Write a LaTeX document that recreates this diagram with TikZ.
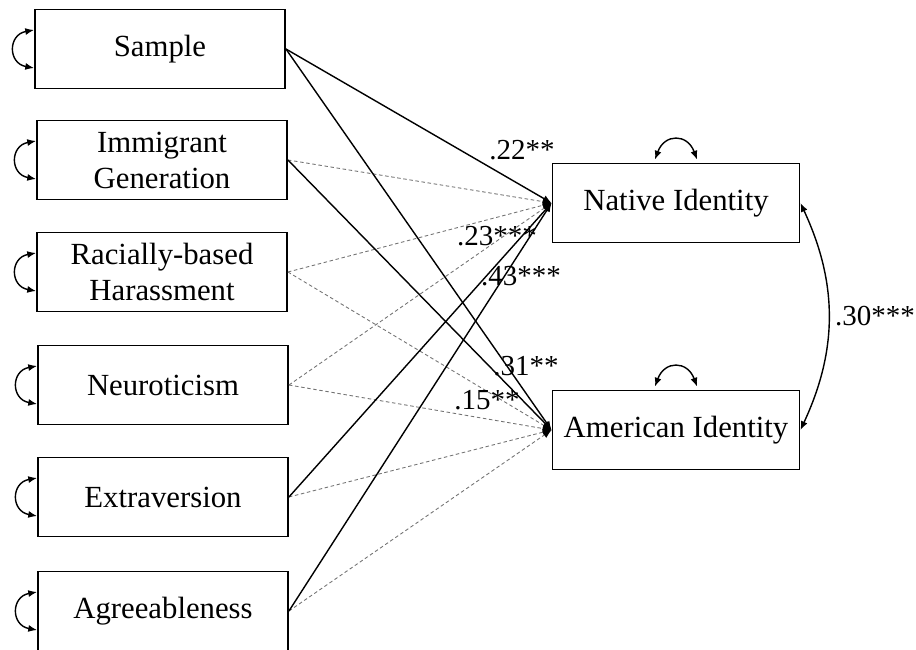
\documentclass[tikz,border=0pt]{standalone}
\usepackage{fontspec}
\setmainfont{Liberation Serif}
\usetikzlibrary{arrows.meta}
\tikzstyle{predictor}=[draw,line width=1.1pt,minimum width=5cm,minimum height=1.58cm,inner sep=0pt,align=center,font=\fontsize{17.5}{20.5}\selectfont]
\tikzstyle{outcome}=[predictor,minimum width=4.94cm]
\tikzstyle{sigpath} = [draw,line width=0.8pt,-{Latex[length=5pt,width=4pt]}]
\tikzstyle{nspath} = [draw,line width=0.5pt,black!55,dash pattern=on 2pt off 1.5pt,-{Latex[length=5pt,width=4pt,color=black]}]
\tikzstyle{covar} = [draw,line width=0.8pt,{Latex[length=5pt,width=4pt]}-{Latex[length=5pt,width=4pt]}]
\tikzstyle{coef} = [font=\fontsize{16.5}{19}\selectfont]
\begin{document}
\begin{tikzpicture}[x=0.02cm,y=0.02cm]
    \useasboundingbox (0,0) rectangle (916,-649);

    \foreach \pos/ \name/ \txt in {{(160,-49)/smp/Sample}, {(162,-160)/img/Immigrant\\Generation}, {(162,-272)/rac/Racially-based\\Harassment}, {(163,-385)/neu/Neuroticism}, {(163,-497)/ext/Extraversion}, {(163,-611)/agr/Agreeableness}}
        \node[predictor] (\name) at \pos {\txt};

    \node[outcome] (nat) at (676,-203) {Native Identity};
    \node[outcome] (ame) at (676,-430) {American Identity};

    % non-significant paths
    \foreach \source/ \dest in {img/nat, rac/nat, rac/ame, neu/nat, neu/ame, ext/ame, agr/ame}
        \path[nspath] (\source.east) -- (\dest.west);
    % significant paths
    \foreach \source/ \dest in {smp/nat, smp/ame, img/ame, ext/nat, agr/nat}
        \path[sigpath] (\source.east) -- (\dest.west);

    \node[coef] (c1) at (522,-150) {.22**};
    \node[coef] (c2) at (497,-236) {.23***};
    \node[coef] (c3) at (521,-276) {.43***};
    \node[coef] (c4) at (526,-366) {.31**};
    \node[coef] (c5) at (487,-400) {.15**};

    % covariances
    \foreach \name in {smp, img, rac, neu, ext, agr}
        \path[covar] ([yshift=0.38cm]\name.west) to[out=190,in=170,looseness=1.8] ([yshift=-0.38cm]\name.west);
    \foreach \name in {nat, ame}
        \path[covar] ([xshift=-0.42cm,yshift=0.06cm]\name.north) to[out=70,in=110,looseness=1.7] ([xshift=0.42cm,yshift=0.06cm]\name.north);
    \path[covar] (nat.east) to[bend left=25] node[coef,right] (c6) {.30***} (ame.east);
\end{tikzpicture}
\end{document}
